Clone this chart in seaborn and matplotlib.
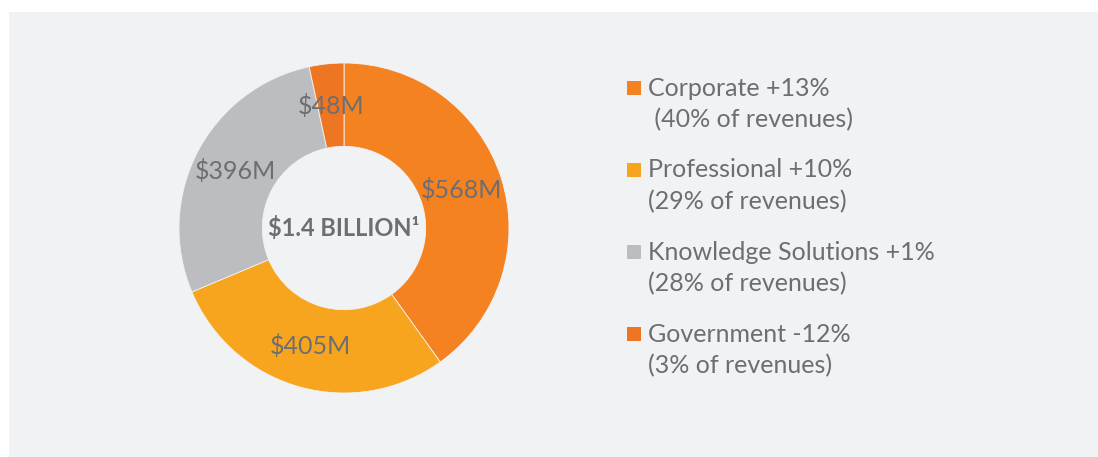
import matplotlib
matplotlib.use("Agg")
import matplotlib.pyplot as plt
from matplotlib.patches import Rectangle
import seaborn as sns

# data
segments = ["Corporate", "Professional", "Knowledge Solutions", "Government"]
revenue_m = [568, 405, 396, 48]
growth = ["+13%", "+10%", "+1%", "-12%"]
share_pct = [40, 29, 28, 3]
center_label = "$1.4 BILLION¹"

colors = ["#F58220", "#F7A51E", "#BCBDC0", "#EE7623"]
text_gray = "#6D6E71"
panel_bg = "#F1F2F4"

sns.set_style("white")
plt.rcParams["font.family"] = ["Lato", "DejaVu Sans"]

fig = plt.figure(figsize=(10.98, 4.57), dpi=100)
fig.patch.set_facecolor("white")

# grey panel behind everything
fig.patches.append(Rectangle((9 / 1098, 0), 1, 1 - 12 / 457,
                             transform=fig.transFigure, facecolor=panel_bg,
                             edgecolor="none", zorder=-10))

# donut
ax = fig.add_axes([(344 - 165) / 1098, (457 - 228 - 165) / 457, 330 / 1098, 330 / 457])
ax.set_facecolor("none")
total = sum(revenue_m)
wedges, _, autotexts = ax.pie(
    revenue_m, colors=colors, startangle=90, counterclock=False,
    wedgeprops=dict(width=0.505, edgecolor=panel_bg, linewidth=0.6),
    autopct=lambda p: "\\$%dM" % round(p * total / 100),
    pctdistance=0.745,
    textprops=dict(color=text_gray, fontsize=18, fontweight="normal"),
)
ax.text(0, 0, "\\" + center_label, ha="center", va="center",
        fontsize=17, fontweight="bold", color=text_gray)
ax.set_xlim(-1, 1)
ax.set_ylim(-1, 1)
ax.set_aspect("equal")
ax.axis("off")

# legend, drawn as text blocks
for i, (name, g, s) in enumerate(zip(segments, growth, share_pct)):
    y = 1 - (88 + i * 82) / 457
    fig.patches.append(Rectangle((627 / 1098, y - 7 / 457), 14 / 1098, 14 / 457,
                                 transform=fig.transFigure, facecolor=colors[i],
                                 edgecolor="none"))
    first = f"{name} {g}"
    second = f"({s}% of revenues)"
    if i == 0:
        second = " " + second
    fig.text(648 / 1098, y, first, ha="left", va="center",
             fontsize=18, fontweight="normal", color=text_gray)
    fig.text(648 / 1098, y - 32 / 457, second, ha="left", va="center",
             fontsize=18, fontweight="normal", color=text_gray)

fig.savefig("out.png", dpi=100, facecolor=fig.get_facecolor())
